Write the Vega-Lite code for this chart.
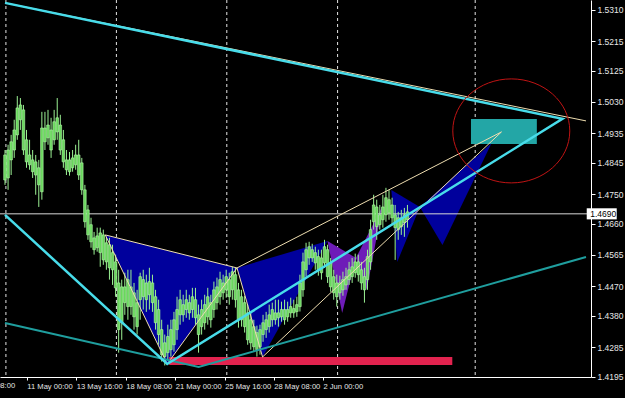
{
"$schema": "https://vega.github.io/schema/vega-lite/v6.json",
"width": 591, "height": 377,
"autosize": {"type": "none"},
"padding": {"left": 0, "top": 0, "right": 34, "bottom": 21},
"background": "#000000",
"config": {
"view": {"stroke": null},
"axis": {"grid": false, "title": null, "domainColor": "#FFFFFF", "tickColor": "#FFFFFF", "labelColor": "#E6E6E6", "labelOverlap": false, "labelFlush": false, "labelBound": false},
"axisX": {"tickSize": 3, "labelFont": "Liberation Sans Narrow, Liberation Sans", "labelFontSize": 7.6, "labelAlign": "left", "labelPadding": 2},
"axisY": {"tickSize": 4, "labelFont": "Liberation Sans", "labelFontSize": 8.5, "labelPadding": 2}
},
"datasets": {
"seps": [{"t": 0.3}, {"t": 36.26}, {"t": 72.2}, {"t": 108.26}, {"t": 153.05}],
"cur": [{"price": 1.469, "label": "1.4690"}],
"cut": [{"label": "6 May 08:00"}],
"tri": [
{"g": "p1", "k": 1, "x": 32.64, "y": 1.46259, "c": "blue"},
{"g": "p1", "k": 2, "x": 52.8, "y": 1.42336, "c": "blue"},
{"g": "p1", "k": 3, "x": 75.52, "y": 1.45255, "c": "blue"},
{"g": "p2", "k": 1, "x": 75.52, "y": 1.45255, "c": "blue"},
{"g": "p2", "k": 2, "x": 83.84, "y": 1.42549, "c": "blue"},
{"g": "p2", "k": 3, "x": 104.96, "y": 1.46076, "c": "blue"},
{"g": "p3", "k": 1, "x": 125.76, "y": 1.47627, "c": "blue"},
{"g": "p3", "k": 2, "x": 127.68, "y": 1.45438, "c": "blue"},
{"g": "p3", "k": 3, "x": 135.04, "y": 1.4711, "c": "blue"},
{"g": "p4", "k": 1, "x": 135.04, "y": 1.4711, "c": "blue"},
{"g": "p4", "k": 2, "x": 142.4, "y": 1.45955, "c": "blue"},
{"g": "p4", "k": 3, "x": 158.4, "y": 1.49056, "c": "blue"},
{"g": "p5", "k": 1, "x": 104.96, "y": 1.46076, "c": "purple"},
{"g": "p5", "k": 2, "x": 109.76, "y": 1.43887, "c": "purple"},
{"g": "p5", "k": 3, "x": 114.24, "y": 1.4556, "c": "purple"},
{"g": "p6", "k": 1, "x": 114.24, "y": 1.4556, "c": "purple"},
{"g": "p6", "k": 2, "x": 117.76, "y": 1.44586, "c": "purple"},
{"g": "p6", "k": 3, "x": 122.88, "y": 1.4714, "c": "purple"}
],
"cyan": [
{"k": 1, "x": 0, "y": 1.46867},
{"k": 2, "x": 52.8, "y": 1.42336},
{"k": 3, "x": 181.44, "y": 1.49786},
{"k": 4, "x": 0, "y": 1.53313}
],
"teal": [
{"k": 1, "x": 0, "y": 1.43583},
{"k": 2, "x": 63.04, "y": 1.42245},
{"k": 3, "x": 189.12, "y": 1.4559}
],
"tan": [
{"g": "g1", "k": 1, "x": 32.64, "y": 1.46259},
{"g": "g1", "k": 2, "x": 52.8, "y": 1.42336},
{"g": "g1", "k": 3, "x": 75.52, "y": 1.45255},
{"g": "g1", "k": 4, "x": 83.84, "y": 1.42549},
{"g": "g1", "k": 5, "x": 161.6, "y": 1.4939},
{"g": "g2", "k": 1, "x": 32.64, "y": 1.46259},
{"g": "g2", "k": 2, "x": 75.52, "y": 1.45255},
{"g": "g3", "k": 1, "x": 75.52, "y": 1.45255},
{"g": "g3", "k": 2, "x": 161.6, "y": 1.4939},
{"g": "g4", "k": 1, "x": 0, "y": 1.53313},
{"g": "g4", "k": 2, "x": 189.12, "y": 1.49725}
],
"zones": [{"x1": 53.44, "x2": 145.6, "y1": 1.42549, "y2": 1.42306, "c": "red"}, {"x1": 151.68, "x2": 173.12, "y1": 1.49786, "y2": 1.49026, "c": "box"}],
"ring": [{"x": 164.8, "y": 1.49421}],
"candles": [
{"i":0,"o":1.4793,"h":1.4884,"l":1.4778,"c":1.4869},
{"i":1,"o":1.4799,"h":1.4900,"l":1.4763,"c":1.4884},
{"i":2,"o":1.4854,"h":1.4930,"l":1.4808,"c":1.4909},
{"i":3,"o":1.4884,"h":1.4976,"l":1.4860,"c":1.4945},
{"i":4,"o":1.4930,"h":1.5048,"l":1.4915,"c":1.5012},
{"i":5,"o":1.4976,"h":1.5042,"l":1.4945,"c":1.5021},
{"i":6,"o":1.5006,"h":1.5021,"l":1.4869,"c":1.4884},
{"i":7,"o":1.4915,"h":1.4945,"l":1.4830,"c":1.4848},
{"i":8,"o":1.4869,"h":1.4915,"l":1.4824,"c":1.4839},
{"i":9,"o":1.4854,"h":1.4884,"l":1.4799,"c":1.4818},
{"i":10,"o":1.4848,"h":1.4869,"l":1.4748,"c":1.4808},
{"i":11,"o":1.4830,"h":1.4854,"l":1.4711,"c":1.4778},
{"i":12,"o":1.4757,"h":1.5000,"l":1.4733,"c":1.4951},
{"i":13,"o":1.4951,"h":1.5000,"l":1.4884,"c":1.4909},
{"i":14,"o":1.4921,"h":1.5006,"l":1.4900,"c":1.4960},
{"i":15,"o":1.4945,"h":1.4982,"l":1.4860,"c":1.4884},
{"i":16,"o":1.4915,"h":1.5006,"l":1.4900,"c":1.4970},
{"i":17,"o":1.4939,"h":1.5042,"l":1.4915,"c":1.4982},
{"i":18,"o":1.4960,"h":1.4991,"l":1.4869,"c":1.4884},
{"i":19,"o":1.4915,"h":1.4945,"l":1.4830,"c":1.4848},
{"i":20,"o":1.4854,"h":1.4884,"l":1.4808,"c":1.4824},
{"i":21,"o":1.4818,"h":1.4878,"l":1.4806,"c":1.4854},
{"i":22,"o":1.4830,"h":1.4884,"l":1.4818,"c":1.4860},
{"i":23,"o":1.4839,"h":1.4900,"l":1.4824,"c":1.4869},
{"i":24,"o":1.4869,"h":1.4915,"l":1.4793,"c":1.4808},
{"i":25,"o":1.4845,"h":1.4860,"l":1.4748,"c":1.4763},
{"i":26,"o":1.4763,"h":1.4778,"l":1.4648,"c":1.4666},
{"i":27,"o":1.4702,"h":1.4717,"l":1.4611,"c":1.4626},
{"i":28,"o":1.4657,"h":1.4678,"l":1.4587,"c":1.4605},
{"i":29,"o":1.4617,"h":1.4635,"l":1.4566,"c":1.4581},
{"i":30,"o":1.4587,"h":1.4648,"l":1.4575,"c":1.4623},
{"i":31,"o":1.4632,"h":1.4648,"l":1.4529,"c":1.4572},
{"i":32,"o":1.4550,"h":1.4642,"l":1.4535,"c":1.4626},
{"i":33,"o":1.4602,"h":1.4620,"l":1.4520,"c":1.4544},
{"i":34,"o":1.4596,"h":1.4617,"l":1.4490,"c":1.4526},
{"i":35,"o":1.4572,"h":1.4596,"l":1.4474,"c":1.4520},
{"i":36,"o":1.4544,"h":1.4566,"l":1.4438,"c":1.4465},
{"i":37,"o":1.4480,"h":1.4520,"l":1.4268,"c":1.4338},
{"i":38,"o":1.4359,"h":1.4490,"l":1.4307,"c":1.4468},
{"i":39,"o":1.4468,"h":1.4511,"l":1.4383,"c":1.4420},
{"i":40,"o":1.4408,"h":1.4520,"l":1.4368,"c":1.4490},
{"i":41,"o":1.4468,"h":1.4520,"l":1.4383,"c":1.4408},
{"i":42,"o":1.4450,"h":1.4480,"l":1.4338,"c":1.4377},
{"i":43,"o":1.4420,"h":1.4459,"l":1.4323,"c":1.4347},
{"i":44,"o":1.4429,"h":1.4511,"l":1.4368,"c":1.4499},
{"i":45,"o":1.4490,"h":1.4520,"l":1.4399,"c":1.4438},
{"i":46,"o":1.4429,"h":1.4505,"l":1.4392,"c":1.4480},
{"i":47,"o":1.4444,"h":1.4526,"l":1.4399,"c":1.4484},
{"i":48,"o":1.4480,"h":1.4505,"l":1.4392,"c":1.4420},
{"i":49,"o":1.4438,"h":1.4459,"l":1.4338,"c":1.4359},
{"i":50,"o":1.4399,"h":1.4429,"l":1.4292,"c":1.4323},
{"i":51,"o":1.4338,"h":1.4368,"l":1.4241,"c":1.4262},
{"i":52,"o":1.4298,"h":1.4323,"l":1.4229,"c":1.4256},
{"i":53,"o":1.4268,"h":1.4353,"l":1.4247,"c":1.4317},
{"i":54,"o":1.4277,"h":1.4368,"l":1.4256,"c":1.4338},
{"i":55,"o":1.4292,"h":1.4392,"l":1.4271,"c":1.4368},
{"i":56,"o":1.4338,"h":1.4438,"l":1.4307,"c":1.4399},
{"i":57,"o":1.4383,"h":1.4459,"l":1.4353,"c":1.4429},
{"i":58,"o":1.4414,"h":1.4444,"l":1.4362,"c":1.4383},
{"i":59,"o":1.4399,"h":1.4459,"l":1.4374,"c":1.4429},
{"i":60,"o":1.4420,"h":1.4444,"l":1.4368,"c":1.4389},
{"i":61,"o":1.4399,"h":1.4465,"l":1.4374,"c":1.4438},
{"i":62,"o":1.4429,"h":1.4465,"l":1.4353,"c":1.4374},
{"i":63,"o":1.4383,"h":1.4414,"l":1.4268,"c":1.4323},
{"i":64,"o":1.4347,"h":1.4429,"l":1.4323,"c":1.4399},
{"i":65,"o":1.4359,"h":1.4444,"l":1.4338,"c":1.4414},
{"i":66,"o":1.4377,"h":1.4465,"l":1.4353,"c":1.4438},
{"i":67,"o":1.4420,"h":1.4444,"l":1.4344,"c":1.4368},
{"i":68,"o":1.4399,"h":1.4484,"l":1.4374,"c":1.4459},
{"i":69,"o":1.4420,"h":1.4496,"l":1.4399,"c":1.4468},
{"i":70,"o":1.4438,"h":1.4514,"l":1.4414,"c":1.4490},
{"i":71,"o":1.4480,"h":1.4505,"l":1.4429,"c":1.4450},
{"i":72,"o":1.4459,"h":1.4520,"l":1.4435,"c":1.4499},
{"i":73,"o":1.4490,"h":1.4511,"l":1.4414,"c":1.4438},
{"i":74,"o":1.4459,"h":1.4529,"l":1.4429,"c":1.4514},
{"i":75,"o":1.4505,"h":1.4526,"l":1.4405,"c":1.4429},
{"i":76,"o":1.4459,"h":1.4480,"l":1.4344,"c":1.4368},
{"i":77,"o":1.4438,"h":1.4459,"l":1.4347,"c":1.4368},
{"i":78,"o":1.4420,"h":1.4441,"l":1.4329,"c":1.4347},
{"i":79,"o":1.4389,"h":1.4414,"l":1.4292,"c":1.4307},
{"i":80,"o":1.4368,"h":1.4392,"l":1.4277,"c":1.4298},
{"i":81,"o":1.4347,"h":1.4368,"l":1.4271,"c":1.4286},
{"i":82,"o":1.4329,"h":1.4350,"l":1.4256,"c":1.4277},
{"i":83,"o":1.4286,"h":1.4353,"l":1.4262,"c":1.4338},
{"i":84,"o":1.4323,"h":1.4383,"l":1.4301,"c":1.4359},
{"i":85,"o":1.4338,"h":1.4392,"l":1.4313,"c":1.4368},
{"i":86,"o":1.4347,"h":1.4414,"l":1.4329,"c":1.4383},
{"i":87,"o":1.4368,"h":1.4420,"l":1.4347,"c":1.4399},
{"i":88,"o":1.4389,"h":1.4429,"l":1.4353,"c":1.4368},
{"i":89,"o":1.4374,"h":1.4429,"l":1.4347,"c":1.4389},
{"i":90,"o":1.4377,"h":1.4423,"l":1.4362,"c":1.4399},
{"i":91,"o":1.4399,"h":1.4429,"l":1.4353,"c":1.4368},
{"i":92,"o":1.4377,"h":1.4423,"l":1.4362,"c":1.4399},
{"i":93,"o":1.4389,"h":1.4435,"l":1.4374,"c":1.4408},
{"i":94,"o":1.4402,"h":1.4429,"l":1.4374,"c":1.4389},
{"i":95,"o":1.4393,"h":1.4438,"l":1.4377,"c":1.4414},
{"i":96,"o":1.4408,"h":1.4505,"l":1.4393,"c":1.4480},
{"i":97,"o":1.4459,"h":1.4572,"l":1.4438,"c":1.4544},
{"i":98,"o":1.4520,"h":1.4602,"l":1.4499,"c":1.4581},
{"i":99,"o":1.4556,"h":1.4605,"l":1.4535,"c":1.4590},
{"i":100,"o":1.4581,"h":1.4599,"l":1.4544,"c":1.4556},
{"i":101,"o":1.4572,"h":1.4590,"l":1.4520,"c":1.4541},
{"i":102,"o":1.4560,"h":1.4581,"l":1.4502,"c":1.4520},
{"i":103,"o":1.4511,"h":1.4581,"l":1.4490,"c":1.4556},
{"i":104,"o":1.4541,"h":1.4611,"l":1.4526,"c":1.4590},
{"i":105,"o":1.4581,"h":1.4596,"l":1.4480,"c":1.4499},
{"i":106,"o":1.4541,"h":1.4556,"l":1.4453,"c":1.4468},
{"i":107,"o":1.4499,"h":1.4520,"l":1.4429,"c":1.4450},
{"i":108,"o":1.4480,"h":1.4505,"l":1.4408,"c":1.4438},
{"i":109,"o":1.4450,"h":1.4502,"l":1.4429,"c":1.4480},
{"i":110,"o":1.4459,"h":1.4514,"l":1.4441,"c":1.4490},
{"i":111,"o":1.4474,"h":1.4526,"l":1.4459,"c":1.4499},
{"i":112,"o":1.4490,"h":1.4544,"l":1.4474,"c":1.4520},
{"i":113,"o":1.4499,"h":1.4556,"l":1.4480,"c":1.4529},
{"i":114,"o":1.4511,"h":1.4569,"l":1.4496,"c":1.4544},
{"i":115,"o":1.4544,"h":1.4566,"l":1.4484,"c":1.4505},
{"i":116,"o":1.4520,"h":1.4544,"l":1.4459,"c":1.4480},
{"i":117,"o":1.4499,"h":1.4526,"l":1.4420,"c":1.4459},
{"i":118,"o":1.4490,"h":1.4581,"l":1.4459,"c":1.4560},
{"i":119,"o":1.4544,"h":1.4672,"l":1.4520,"c":1.4642},
{"i":120,"o":1.4666,"h":1.4748,"l":1.4642,"c":1.4717},
{"i":121,"o":1.4711,"h":1.4733,"l":1.4611,"c":1.4651},
{"i":122,"o":1.4657,"h":1.4717,"l":1.4642,"c":1.4687},
{"i":123,"o":1.4672,"h":1.4748,"l":1.4648,"c":1.4711},
{"i":124,"o":1.4687,"h":1.4769,"l":1.4666,"c":1.4739},
{"i":125,"o":1.4733,"h":1.4763,"l":1.4672,"c":1.4693},
{"i":126,"o":1.4717,"h":1.4739,"l":1.4657,"c":1.4678},
{"i":127,"o":1.4687,"h":1.4717,"l":1.4550,"c":1.4648},
{"i":128,"o":1.4642,"h":1.4696,"l":1.4611,"c":1.4678},
{"i":129,"o":1.4678,"h":1.4702,"l":1.4626,"c":1.4651},
{"i":130,"o":1.4663,"h":1.4708,"l":1.4620,"c":1.4687},
{"i":131,"o":1.4672,"h":1.4717,"l":1.4648,"c":1.4696}
]
},
"layer": [
{
"data": {"name": "seps"},
"mark": {"type": "rule", "color": "#E4E4E4", "strokeWidth": 1, "strokeDash": [3, 3]},
"encoding": {
"x": {"field": "t", "type": "quantitative", "scale": {"domain": [0, 189.12], "nice": false, "zero": false},
"axis": {"orient": "bottom", "title": null, "grid": false, "tickCount": 30, "labelOverlap": false, "labelFlush": false, "labelBound": false, "values": [7.1, 23.2, 39.3, 55.4, 71.5, 87.5, 103.5],
"labelExpr": "datum.value < 10 ? '11 May 00:00' : datum.value < 30 ? '13 May 16:00' : datum.value < 45 ? '18 May 08:00' : datum.value < 60 ? '21 May 00:00' : datum.value < 80 ? '25 May 16:00' : datum.value < 95 ? '28 May 08:00' : '2 Jun 00:00'"}}
}
},
{
"data": {"name": "tri"},
"mark": {"type": "line", "filled": true, "interpolate": "linear-closed", "strokeWidth": 0.5},
"encoding": {
"x": {"field": "x", "type": "quantitative", "scale": {"domain": [0, 189.12], "nice": false, "zero": false}},
"y": {"field": "y", "type": "quantitative", "scale": {"domain": [1.4194, 1.534], "nice": false, "zero": false},
"axis": {"orient": "right", "title": null, "grid": false, "tickCount": 30, "labelOverlap": false, "labelFlush": false, "labelBound": false, "values": [1.4195, 1.4285, 1.438, 1.447, 1.4565, 1.466, 1.475, 1.4845, 1.4935, 1.503, 1.5125, 1.5215, 1.531], "format": ".4f"}},
"detail": {"field": "g"},
"order": {"field": "k"},
"color": {"field": "c", "type": "nominal", "scale": {"domain": ["blue", "purple"], "range": ["#00009C", "#6E1CB8"]}, "legend": null}
}
},
{
"data": {"name": "cur"},
"mark": {"type": "rule", "color": "#D8D8D8", "strokeWidth": 1},
"encoding": {
"y": {"field": "price", "type": "quantitative", "scale": {"domain": [1.4194, 1.534], "nice": false, "zero": false}}
}
},
{
"data": {"name": "candles"},
"mark": {"type": "rule", "color": "#9CF294", "strokeWidth": 1},
"encoding": {
"x": {"field": "i", "type": "quantitative", "scale": {"domain": [0, 189.12], "nice": false, "zero": false}},
"y": {"field": "l", "type": "quantitative", "scale": {"domain": [1.4194, 1.534], "nice": false, "zero": false}},
"y2": {"field": "h"}
}
},
{
"data": {"name": "candles"},
"mark": {"type": "bar", "width": 2.6, "fill": "#6AD65E", "stroke": "#B2FCA8", "strokeWidth": 0.6},
"encoding": {
"x": {"field": "i", "type": "quantitative", "scale": {"domain": [0, 189.12], "nice": false, "zero": false}},
"y": {"field": "o", "type": "quantitative", "scale": {"domain": [1.4194, 1.534], "nice": false, "zero": false}},
"y2": {"field": "c"}
}
},
{
"data": {"name": "zones"},
"mark": {"type": "rect"},
"encoding": {
"x": {"field": "x1", "type": "quantitative", "scale": {"domain": [0, 189.12], "nice": false, "zero": false}},
"x2": {"field": "x2"},
"y": {"field": "y1", "type": "quantitative", "scale": {"domain": [1.4194, 1.534], "nice": false, "zero": false}},
"y2": {"field": "y2"},
"fill": {"field": "c", "type": "nominal", "scale": {"domain": ["red", "box"], "range": ["#E2234F", "#23A6A6"]}, "legend": null}
}
},
{
"data": {"name": "tan"},
"mark": {"type": "line", "color": "#EEDDB0", "strokeWidth": 1},
"encoding": {
"x": {"field": "x", "type": "quantitative", "scale": {"domain": [0, 189.12], "nice": false, "zero": false}},
"y": {"field": "y", "type": "quantitative", "scale": {"domain": [1.4194, 1.534], "nice": false, "zero": false}},
"detail": {"field": "g"},
"order": {"field": "k"}
}
},
{
"data": {"name": "teal"},
"mark": {"type": "line", "color": "#1F9E9E", "strokeWidth": 2},
"encoding": {
"x": {"field": "x", "type": "quantitative", "scale": {"domain": [0, 189.12], "nice": false, "zero": false}},
"y": {"field": "y", "type": "quantitative", "scale": {"domain": [1.4194, 1.534], "nice": false, "zero": false}},
"order": {"field": "k"}
}
},
{
"data": {"name": "cyan"},
"mark": {"type": "line", "color": "#48DCEA", "strokeWidth": 2.5},
"encoding": {
"x": {"field": "x", "type": "quantitative", "scale": {"domain": [0, 189.12], "nice": false, "zero": false}},
"y": {"field": "y", "type": "quantitative", "scale": {"domain": [1.4194, 1.534], "nice": false, "zero": false}},
"order": {"field": "k"}
}
},
{
"data": {"name": "ring"},
"mark": {"type": "point", "shape": "M -1 0 A 1 0.889 0 1 1 1 0 A 1 0.889 0 1 1 -1 0 Z", "size": 13689, "filled": false, "color": "#C01414", "strokeWidth": 1, "opacity": 1},
"encoding": {
"x": {"field": "x", "type": "quantitative", "scale": {"domain": [0, 189.12], "nice": false, "zero": false}},
"y": {"field": "y", "type": "quantitative", "scale": {"domain": [1.4194, 1.534], "nice": false, "zero": false}}
}
},
{
"data": {"name": "cur"},
"mark": {"type": "point", "shape": "M -1 -0.37 L 1 -0.37 L 1 0.37 L -1 0.37 Z", "size": 900, "filled": true, "color": "#FFFFFF", "opacity": 1},
"encoding": {
"x": {"datum": 194.24, "type": "quantitative", "scale": {"domain": [0, 189.12], "nice": false, "zero": false}},
"y": {"field": "price", "type": "quantitative", "scale": {"domain": [1.4194, 1.534], "nice": false, "zero": false}}
}
},
{
"data": {"name": "cur"},
"mark": {"type": "text", "align": "left", "baseline": "middle", "font": "Liberation Sans", "fontSize": 8.5, "color": "#000000"},
"encoding": {
"x": {"datum": 190.5, "type": "quantitative", "scale": {"domain": [0, 189.12], "nice": false, "zero": false}},
"y": {"field": "price", "type": "quantitative", "scale": {"domain": [1.4194, 1.534], "nice": false, "zero": false}},
"text": {"field": "label"}
}
},
{
"data": {"name": "cut"},
"mark": {"type": "text", "align": "left", "baseline": "top", "font": "Liberation Sans Narrow, Liberation Sans", "fontSize": 7.6, "color": "#E6E6E6"},
"encoding": {
"x": {"datum": -10.3, "type": "quantitative", "scale": {"domain": [0, 189.12], "nice": false, "zero": false}},
"y": {"datum": 1.4178, "type": "quantitative", "scale": {"domain": [1.4194, 1.534], "nice": false, "zero": false}},
"text": {"field": "label"}
}
}
]
}
